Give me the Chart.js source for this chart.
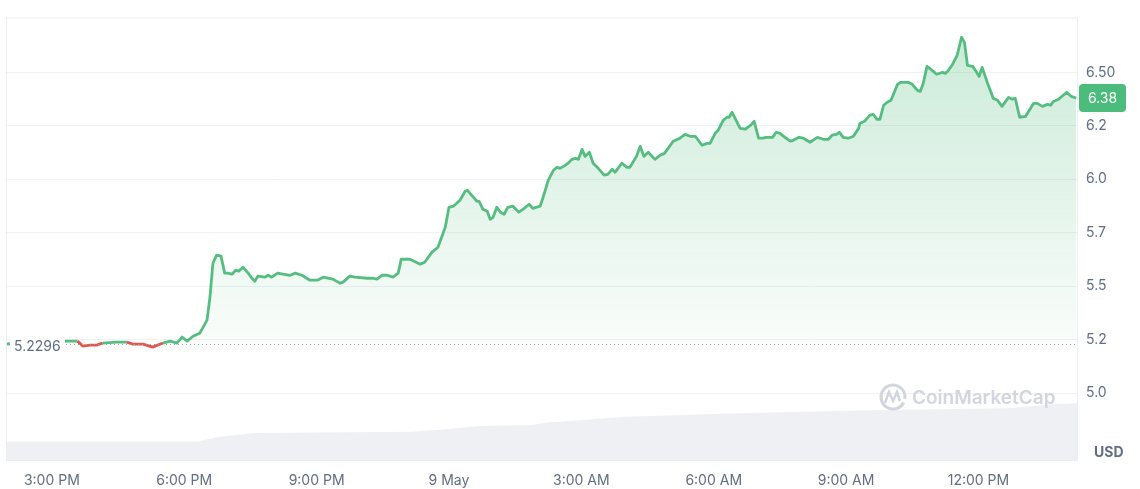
<!DOCTYPE html>
<html lang="en">
<head>
    <meta charset="UTF-8">
    <title>Price Chart</title>
    <script src="https://cdn.jsdelivr.net/npm/chart.js@4.4.1/dist/chart.umd.min.js"></script>
    <style>
        body { margin: 0; background: #ffffff; }
        .chart-box { width: 1140px; height: 489px; position: relative; }
    </style>
</head>
<body>
    <div class="chart-box">
        <canvas id="priceChart" width="1140" height="489"></canvas>
    </div>

    <script>
        // time = minutes since 8 May 00:00
        const priceTimes = [
            839, 870, 900, 922, 935, 942, 952, 961, 969, 988,
            1002, 1010, 1024, 1037, 1051, 1061, 1070, 1077, 1084, 1092,
            1101, 1105, 1111, 1115, 1119, 1124, 1130, 1135, 1139, 1145,
            1150, 1154, 1160, 1167, 1172, 1176, 1180, 1190, 1194, 1199,
            1207, 1214, 1224, 1231, 1240, 1251, 1261, 1269, 1282, 1292,
            1296, 1305, 1312, 1329, 1337, 1342, 1349, 1356, 1364, 1371,
            1375, 1387, 1401, 1407, 1417, 1425, 1435, 1440, 1446, 1455,
            1462, 1465, 1471, 1478, 1481, 1486, 1492, 1496, 1500, 1505,
            1510, 1515, 1520, 1527, 1535, 1541, 1549, 1554, 1564, 1568,
            1575, 1582, 1587, 1591, 1598, 1602, 1607, 1612, 1616, 1621,
            1625, 1631, 1636, 1643, 1651, 1656, 1662, 1666, 1675, 1682,
            1686, 1695, 1700, 1705, 1711, 1720, 1727, 1733, 1745, 1754,
            1761, 1768, 1775, 1784, 1791, 1795, 1802, 1806, 1813, 1818,
            1821, 1825, 1836, 1843, 1850, 1855, 1861, 1867, 1871, 1880,
            1885, 1890, 1897, 1904, 1908, 1916, 1922, 1931, 1941, 1949,
            1956, 1961, 1967, 1971, 1976, 1983, 1990, 1997, 1999, 2005,
            2012, 2017, 2022, 2026, 2031, 2036, 2041, 2050, 2054, 2065,
            2070, 2077, 2081, 2085, 2090, 2097, 2103, 2111, 2115, 2119,
            2124, 2131, 2137, 2141, 2145, 2152, 2156, 2161, 2165, 2172,
            2176, 2180, 2186, 2192, 2201, 2206, 2210, 2216, 2224, 2235,
            2240, 2247, 2254, 2258, 2262, 2269, 2280, 2286, 2293
        ];
        const priceValues = [
            5.2296, 5.236, 5.240, 5.243, 5.243, 5.220, 5.224, 5.224, 5.234, 5.238,
            5.238, 5.229, 5.229, 5.215, 5.234, 5.243, 5.234, 5.262, 5.243, 5.266,
            5.280, 5.304, 5.341, 5.449, 5.607, 5.645, 5.640, 5.561, 5.561, 5.556,
            5.575, 5.570, 5.589, 5.561, 5.537, 5.523, 5.547, 5.542, 5.551, 5.542,
            5.561, 5.556, 5.551, 5.561, 5.551, 5.528, 5.528, 5.542, 5.533, 5.514,
            5.519, 5.547, 5.542, 5.537, 5.537, 5.533, 5.551, 5.551, 5.542, 5.561,
            5.626, 5.626, 5.603, 5.612, 5.659, 5.682, 5.776, 5.869, 5.874, 5.902,
            5.944, 5.949, 5.925, 5.897, 5.897, 5.860, 5.850, 5.813, 5.822, 5.869,
            5.846, 5.836, 5.869, 5.874, 5.846, 5.860, 5.883, 5.864, 5.874, 5.916,
            5.995, 6.042, 6.056, 6.051, 6.065, 6.075, 6.093, 6.098, 6.093, 6.140,
            6.107, 6.126, 6.075, 6.051, 6.019, 6.023, 6.047, 6.033, 6.075, 6.056,
            6.056, 6.107, 6.154, 6.107, 6.126, 6.093, 6.112, 6.121, 6.178, 6.192,
            6.210, 6.201, 6.201, 6.159, 6.168, 6.168, 6.215, 6.229, 6.276, 6.290,
            6.290, 6.313, 6.238, 6.234, 6.252, 6.271, 6.192, 6.192, 6.196, 6.196,
            6.220, 6.215, 6.196, 6.178, 6.182, 6.196, 6.192, 6.173, 6.196, 6.187,
            6.187, 6.206, 6.210, 6.220, 6.196, 6.192, 6.201, 6.238, 6.262, 6.271,
            6.299, 6.304, 6.280, 6.280, 6.346, 6.360, 6.369, 6.444, 6.453, 6.453,
            6.444, 6.416, 6.411, 6.449, 6.528, 6.509, 6.491, 6.500, 6.495, 6.509,
            6.533, 6.579, 6.664, 6.640, 6.533, 6.528, 6.509, 6.481, 6.523, 6.453,
            6.416, 6.379, 6.369, 6.341, 6.383, 6.374, 6.379, 6.290, 6.294, 6.355,
            6.355, 6.341, 6.350, 6.346, 6.364, 6.374, 6.407, 6.388, 6.380
        ];

        // 24h volume (millions USD)
        const volumeTimes = [839, 1100, 1125, 1176, 1390, 1440, 1480, 1552, 1575, 1681, 1846, 2033, 2200, 2262, 2294];
        const volumeValues = [4.1, 4.2, 5.2, 6.1, 6.4, 7.0, 7.7, 7.9, 8.5, 9.8, 10.6, 11.3, 11.7, 12.6, 12.8];

        const xTickValues = [900, 1080, 1260, 1440, 1620, 1800, 1980, 2160];
        const xTickLabels = ['3:00 PM', '6:00 PM', '9:00 PM', '9 May', '3:00 AM', '6:00 AM', '9:00 AM', '12:00 PM'];
        const yTickValues = [5.0, 5.25, 5.5, 5.75, 6.0, 6.25, 6.5];
        const yTickLabels = ['5.0', '5.2', '5.5', '5.7', '6.0', '6.2', '6.50'];

        const openPrice = 5.2296;
        const lastPrice = '6.38';

        const GREEN = '#56bd80';
        const RED = '#e0584c';
        const TEXT = '#616e85';
        const FONT = 'Inter, "Noto Sans", sans-serif';

        const pricePoints = priceTimes.map((t, i) => ({ x: t, y: priceValues[i] }));
        const volumePoints = volumeTimes.map((t, i) => ({ x: t, y: volumeValues[i] }));

        // overlays: frame, baseline, open label, last price badge, watermark
        const overlayPlugin = {
            id: 'overlay',
            beforeDraw(chart) {
                const c = chart.ctx;
                const a = chart.chartArea;
                c.save();
                c.strokeStyle = '#eceef2';
                c.lineWidth = 1;
                c.strokeRect(a.left - 0.5, a.top + 0.5, a.right - a.left + 1, a.bottom - a.top);
                c.restore();
            },
            afterDatasetsDraw(chart) {
                const c = chart.ctx;
                const a = chart.chartArea;
                const y = chart.scales.y;
                const baseY = Math.round(y.getPixelForValue(openPrice)) + 0.5;

                c.save();
                // dotted baseline
                c.strokeStyle = '#9aa1ad';
                c.lineWidth = 1;
                c.setLineDash([1, 3]);
                c.beginPath();
                c.moveTo(66, baseY);
                c.lineTo(a.right, baseY);
                c.stroke();
                c.setLineDash([]);

                // open price label
                c.fillStyle = '#ffffff';
                c.fillRect(10, baseY - 10, 55, 22);
                c.fillStyle = TEXT;
                c.font = '14px ' + FONT;
                c.textBaseline = 'middle';
                c.textAlign = 'left';
                c.fillText(openPrice.toFixed(4), 14, baseY + 2);

                // watermark
                c.strokeStyle = '#d3d6de';
                c.lineWidth = 3;
                c.beginPath();
                c.arc(893, 397, 12, 0.15 * Math.PI, 2.05 * Math.PI);
                c.stroke();
                c.lineWidth = 2.5;
                c.beginPath();
                c.moveTo(885, 403);
                c.lineTo(889, 392);
                c.lineTo(893, 401);
                c.lineTo(897, 392);
                c.lineTo(900, 401);
                c.stroke();
                c.fillStyle = '#d3d6de';
                c.font = '600 19px ' + FONT;
                c.fillText('CoinMarketCap', 912, 398);

                // last price badge
                const ly = y.getPixelForValue(parseFloat(lastPrice));
                c.fillStyle = '#4cbc7c';
                c.beginPath();
                c.roundRect(a.right + 2, ly - 14, 47, 28, 4);
                c.fill();
                c.fillStyle = '#ffffff';
                c.font = '14px ' + FONT;
                c.textAlign = 'center';
                c.fillText(lastPrice, a.right + 25.5, ly + 1);

                // currency
                c.fillStyle = TEXT;
                c.font = 'bold 14px ' + FONT;
                c.textAlign = 'left';
                c.fillText('USD', 1094, 453);
                c.restore();
            }
        };

        const ctx = document.getElementById('priceChart').getContext('2d');
        const priceChart = new Chart(ctx, {
            type: 'line',
            data: {
                datasets: [{
                    label: 'Price',
                    data: pricePoints,
                    yAxisID: 'y',
                    order: 1,
                    borderColor: GREEN,
                    borderWidth: 2.8,
                    borderJoinStyle: 'round',
                    pointRadius: 0,
                    tension: 0,
                    segment: {
                        borderColor: c => (c.p0.parsed.y < openPrice || c.p1.parsed.y < openPrice) ? RED : GREEN
                    },
                    backgroundColor: (c) => {
                        const area = c.chart.chartArea;
                        if (!area) return 'rgba(86,189,128,0.15)';
                        const g = c.chart.ctx.createLinearGradient(0, area.top, 0, c.chart.scales.y.getPixelForValue(openPrice));
                        g.addColorStop(0, 'rgba(86,189,128,0.32)');
                        g.addColorStop(1, 'rgba(86,189,128,0.03)');
                        return g;
                    },
                    fill: { target: { value: openPrice }, below: 'rgba(224,88,76,0.06)' }
                }, {
                    label: 'Volume',
                    data: volumePoints,
                    yAxisID: 'yv',
                    order: 2,
                    borderWidth: 0,
                    borderColor: 'rgba(0,0,0,0)',
                    backgroundColor: '#eef0f4',
                    pointRadius: 0,
                    fill: 'origin'
                }]
            },
            options: {
                responsive: false,
                animation: false,
                layout: { padding: { left: 7, top: 17, right: 0, bottom: 0 } },
                plugins: {
                    legend: { display: false },
                    tooltip: { enabled: false }
                },
                scales: {
                    x: {
                        type: 'linear',
                        min: 839,
                        max: 2294,
                        grid: { display: false },
                        border: { display: false },
                        afterBuildTicks: s => { s.ticks = xTickValues.map(v => ({ value: v })); },
                        afterFit: s => { s.height = 29; },
                        ticks: {
                            autoSkip: false,
                            maxRotation: 0,
                            padding: 4,
                            color: TEXT,
                            font: { family: FONT, size: 14 },
                            callback: (v, i) => xTickLabels[i]
                        }
                    },
                    y: {
                        position: 'right',
                        min: 4.687,
                        max: 6.757,
                        grid: { color: '#eff1f4', drawTicks: false },
                        border: { display: false },
                        afterBuildTicks: s => { s.ticks = yTickValues.map(v => ({ value: v })); },
                        afterFit: s => { s.width = 63; },
                        ticks: {
                            padding: 9,
                            color: TEXT,
                            font: { family: FONT, size: 14 },
                            callback: (v, i) => yTickLabels[i]
                        }
                    },
                    yv: {
                        display: false,
                        min: 0,
                        max: 100
                    }
                }
            },
            plugins: [overlayPlugin]
        });
    </script>
</body>
</html>
